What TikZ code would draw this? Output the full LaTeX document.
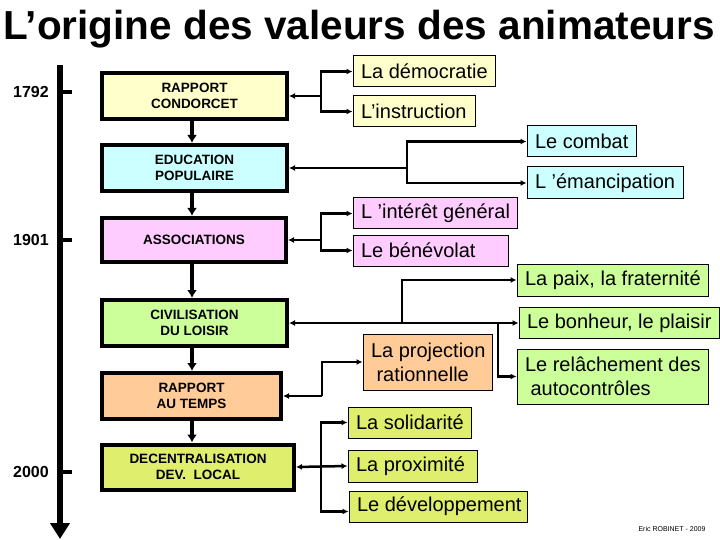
\documentclass[tikz,border=0pt]{standalone}
\usepackage{fontspec}
\setmainfont{Liberation Sans}
\usetikzlibrary{arrows.meta}
\definecolor{cyel}{HTML}{FFFFCC}
\definecolor{ccya}{HTML}{CCFFFF}
\definecolor{cpink}{HTML}{FFCCFF}
\definecolor{cgreen}{HTML}{CCFF99}
\definecolor{cpeach}{HTML}{FFCC99}
\definecolor{cyg}{HTML}{DFEE6C}
\begin{document}
\begin{tikzpicture}[x=1pt,y=-1pt,
  lbox/.style={draw, line width=4pt, inner sep=0pt, align=center,
    font=\bfseries\fontsize{13.5}{16}\selectfont},
  rbox/.style={draw, line width=1pt, inner xsep=8pt, inner ysep=0pt, align=flush left,
    text width=#1-16pt, font=\fontsize{20}{24}\selectfont},
  conn/.style={line width=2.5pt},
  tip/.tip={Latex[length=6pt,width=6pt]},
  year/.style={font=\bfseries\fontsize{16}{18}\selectfont},
  darr/.style={line width=4pt, -{Latex[length=8pt,width=10pt]}}
]
\useasboundingbox[fill=white] (0,0) rectangle (720,540);

% title
\node[font=\bfseries\fontsize{40.5}{44}\selectfont] (title) at (359,29) {L’origine des valeurs des animateurs};

% timeline
\coordinate (tltop) at (60,65);
\coordinate (tlbot) at (60,539);
\draw[line width=6pt, -{Triangle[width=19pt,length=16pt]}] (tltop) -- (tlbot);
\coordinate (t1) at (60,92);
\coordinate (t2) at (60,240);
\coordinate (t3) at (60,472);
\draw[line width=4pt] (t1) -- ++(12,0);
\draw[line width=4pt] (t2) -- ++(12,0);
\draw[line width=4pt] (t3) -- ++(12,0);
\node[year] (y1) at (31,92) {1792};
\node[year] (y2) at (31,240) {1901};
\node[year] (y3) at (31,472) {2000};

% left boxes
\node[lbox, fill=cyel, minimum width=185, minimum height=46] (rc) at (194.5,96) {RAPPORT\\CONDORCET};
\node[lbox, fill=ccya, minimum width=185, minimum height=46] (ep) at (194.5,168) {EDUCATION\\POPULAIRE};
\node[lbox, fill=cpink, minimum width=184, minimum height=44] (as) at (194,240) {ASSOCIATIONS};
\node[lbox, fill=cgreen, minimum width=185, minimum height=46] (cl) at (194.5,323) {CIVILISATION\\DU LOISIR};
\node[lbox, fill=cpeach, minimum width=179, minimum height=46] (rt) at (191.5,396) {RAPPORT\\AU TEMPS};
\node[lbox, fill=cyg, minimum width=192, minimum height=45] (dl) at (198,467) {DECENTRALISATION\\DEV.\ \ LOCAL};

\draw[darr] (rc.south -| 192,0) -- (ep.north -| 192,0);
\draw[darr] (ep.south -| 192,0) -- (as.north -| 192,0);
\draw[darr] (as.south -| 192,0) -- (cl.north -| 192,0);
\draw[darr] (cl.south -| 192,0) -- (rt.north -| 192,0);
\draw[darr] (rt.south -| 192,0) -- (dl.north -| 192,0);

% right boxes
\node[rbox=142pt, fill=cyel, minimum height=31] (dem) at (424,71.5) {\mbox{La démocratie}};
\node[rbox=122pt, fill=cyel, minimum height=31] (ins) at (414,111.5) {\mbox{L’instruction}};
\node[rbox=109pt, fill=ccya, minimum height=31] (com) at (581.5,141.5) {\mbox{Le combat}};
\node[rbox=156pt, fill=ccya, minimum height=32] (ema) at (605,183) {\mbox{L ’émancipation}};
\node[rbox=164pt, fill=cpink, minimum height=31] (int) at (435,213.5) {\mbox{L ’intérêt général}};
\node[rbox=155pt, fill=cpink, minimum height=31] (ben) at (430.5,250.5) {\mbox{Le bénévolat}};
\node[rbox=191pt, fill=cgreen, minimum height=32] (paix) at (612.5,280) {\mbox{La paix, la fraternité}};
\node[rbox=200pt, fill=cgreen, minimum height=31] (bon) at (619,323) {\mbox{Le bonheur, le plaisir}};
\node[rbox=191pt, fill=cgreen, minimum height=55] (rel) at (612.5,376.5) {\mbox{Le relâchement des}\\\mbox{\ autocontrôles}};
\node[rbox=129pt, fill=cpeach, minimum height=56] (proj) at (427.5,362) {\mbox{La projection}\\\mbox{\ rationnelle}};
\node[rbox=123pt, fill=cyg, minimum height=31] (sol) at (409.5,422.5) {\mbox{La solidarité}};
\node[rbox=129pt, fill=cyg, minimum height=32] (prox) at (412.5,466) {\mbox{La proximité}};
\node[rbox=178pt, fill=cyg, minimum height=31] (dev) at (438,506.5) {\mbox{Le développement}};

% connectors
\coordinate (j1) at (321,96);
\draw[conn, tip-] (rc.east) -- (j1);
\draw[conn, -tip] (j1) |- (dem.west);
\draw[conn, -tip] (j1) |- (ins.west);

\coordinate (j2) at (407,168);
\draw[conn, tip-] (ep.east) -- (j2);
\draw[conn, -tip] (j2) |- (com.west);
\draw[conn, -tip] (j2) |- (ema.west);

\coordinate (j3) at (321,240);
\draw[conn, tip-] (as.east) -- (j3);
\draw[conn, -tip] (j3) |- (int.west);
\draw[conn, -tip] (j3) |- (ben.west);

\coordinate (j4a) at (402,323);
\coordinate (j4b) at (498,323);
\draw[conn, tip-tip] (cl.east) -- (bon.west);
\draw[conn, -tip] (j4a) |- (paix.west);
\draw[conn, -tip] (j4b) |- (rel.west);

\coordinate (j5) at (322,396);
\draw[conn, tip-] (rt.east) -- (j5);
\draw[conn, -tip] (j5) |- (proj.west);

\coordinate (j6) at (321,466);
\draw[conn, tip-tip] (dl.east) -- (prox.west);
\draw[conn, -tip] (j6) |- (sol.west);
\draw[conn, -tip] (j6) |- ([yshift=-5pt]dev.west);

% footer
\node[font=\fontsize{7}{8}\selectfont] (foot) at (672,529) {Eric ROBINET - 2009};
\end{tikzpicture}
\end{document}
